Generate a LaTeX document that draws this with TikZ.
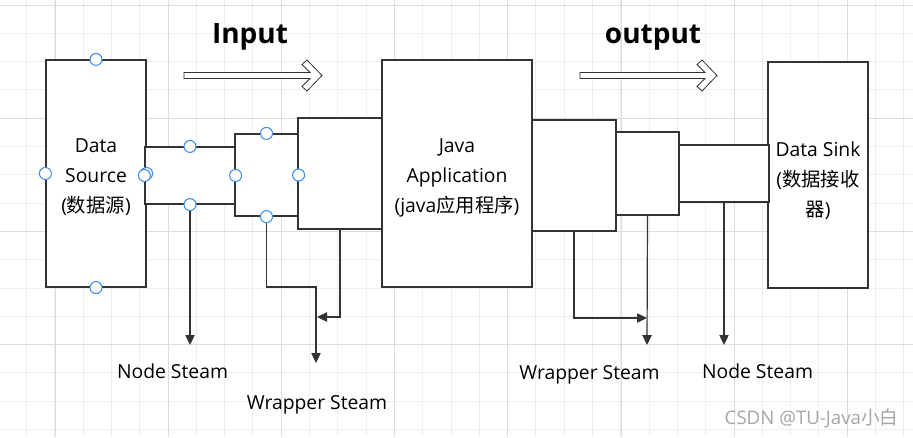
\documentclass[tikz,border=0pt]{standalone}
\usepackage{fontspec}
\setmainfont{Open Sans}
\newfontfamily\cjk{Noto Sans CJK SC}
\usetikzlibrary{arrows.meta}
\tikzset{>={Triangle[width=7pt,length=7.5pt]}}
\definecolor{handleblue}{HTML}{3B8EEA}
\definecolor{boxgray}{HTML}{333333}
\definecolor{gridminor}{HTML}{EEEEEE}
\definecolor{gridmajor}{HTML}{DCDCDC}
\definecolor{markgray}{HTML}{A6A6A6}
\tikzset{
  box/.style={draw=boxgray, line width=0.9pt, fill=white, inner sep=0pt},
  boxtext/.style={align=center, inner sep=0pt, yshift=-3pt,
    font=\fontsize{14.5}{21}\selectfont},
  handle/.style={circle, draw=handleblue, fill=white, line width=0.8pt,
    minimum size=9pt, inner sep=0pt},
  flow/.style={->, draw=boxgray, line width=0.9pt},
  steamtext/.style={font=\fontsize{14.5}{21}\selectfont, anchor=base},
  headline/.style={font=\bfseries\fontsize{21}{25}\selectfont, anchor=base},
  hollow/.style={draw=boxgray, line width=0.6pt, fill=white}
}

\begin{document}
\begin{tikzpicture}[x=0.75pt,y=-0.75pt]

\newcommand\fatarrow[3]{%% start x, tip x, centre y
\draw[hollow] (#1,#3-3) -- (#2-12,#3-3) -- (#2-20,#3-11) -- (#2-15,#3-15.5)
  -- (#2,#3) -- (#2-15,#3+15.5) -- (#2-20,#3+11) -- (#2-12,#3+3)
  -- (#1,#3+3) -- cycle;}

\useasboundingbox (0,0) rectangle (913,437);
\fill[white] (0,0) rectangle (913,437);

%% grid
\foreach \k in {0,...,33}
  \draw[gridminor, line width=0.7pt] ({-1.8+28.3*\k},0) -- ({-1.8+28.3*\k},437);
\foreach \k in {0,...,15}
  \draw[gridminor, line width=0.7pt] (0,{5+28.3*\k}) -- (913,{5+28.3*\k});
\foreach \k in {0,...,7}
  \draw[gridmajor, line width=0.7pt] ({55+113.2*\k},0) -- ({55+113.2*\k},437);
\foreach \k in {0,...,3}
  \draw[gridmajor, line width=0.7pt] (0,{5+113.2*\k}) -- (913,{5+113.2*\k});

%% titles and hollow arrows
\node[headline] (input) at (250,43) {Input};
\node[headline] (output) at (653,43) {output};
\fatarrow{184}{322}{75.5}
\fatarrow{580}{717}{75.5}

%% main boxes
\node[box, minimum width=75pt, minimum height=170.25pt,
  label={[boxtext]center:{Data\\[1.5pt]Source\\[1.5pt]({\cjk 数据源})}}]
  (src) at (96,173.5) {};
\node[box, minimum width=112.5pt, minimum height=170.25pt,
  label={[boxtext]center:{Java\\[1.5pt]Application\\[1.5pt](java{\cjk 应用程序})}}]
  (app) at (457,173.5) {};
\node[box, minimum width=75pt, minimum height=169.5pt,
  label={[boxtext, yshift=-1pt]center:{Data Sink\\[1.5pt]({\cjk 数据接收}\\[1.5pt]{\cjk 器})}}]
  (sink) at (818,175) {};

%% stream boxes
\node[box, minimum width=67.5pt, minimum height=42.75pt] (n1) at (190,175.5) {};
\node[box, minimum width=47.25pt, minimum height=61.5pt] (n2) at (266.5,175) {};
\node[box, minimum width=63pt, minimum height=83.25pt] (n3) at (340,173.5) {};
\node[box, minimum width=63pt, minimum height=83.25pt] (w1) at (574,175.5) {};
\node[box, minimum width=47.25pt, minimum height=62.25pt] (w2) at (647.5,173.5) {};
\node[box, minimum width=67.5pt, minimum height=42.75pt] (w3) at (724,173.5) {};

%% connector ends
\coordinate (nsA) at (190,345);
\coordinate (wAbend) at (316,287);
\coordinate (wA) at (316,363);
\coordinate (wAjoin) at (317,317);
\coordinate (wBjoin) at (647,318);
\coordinate (wB) at (647,345);
\coordinate (nsB) at (724,345);

\draw[flow] (n1.south) -- (nsA);
\draw[flow] (n2.south) |- (wAbend) -- (wA);
\draw[flow] (n3.south) |- (wAjoin);
\draw[flow] (w1.south) |- (wBjoin);
\draw[flow] (w2.south) -- (wB);
\draw[flow] (w3.south) -- (nsB);

%% handles
\foreach \a in {north,west,south,east}
  \node[handle] at (src.\a) {};
\foreach \a in {north,west,south,east}
  \node[handle] at (n1.\a) {};
\foreach \a in {north,south,east}
  \node[handle] at (n2.\a) {};

%% labels
\node[steamtext] (nsAtext) at (172.5,378) {Node Steam};
\node[steamtext] (wAtext) at (317,409) {Wrapper Steam};
\node[steamtext] (wBtext) at (589.5,379) {Wrapper Steam};
\node[steamtext] (nsBtext) at (757.5,378) {Node Steam};

\node[anchor=base west, text=markgray, font=\fontsize{14}{16}\selectfont]
  (mark) at (720,424) {CSDN @TU-Java{\cjk 小白}};

\end{tikzpicture}
\end{document}
